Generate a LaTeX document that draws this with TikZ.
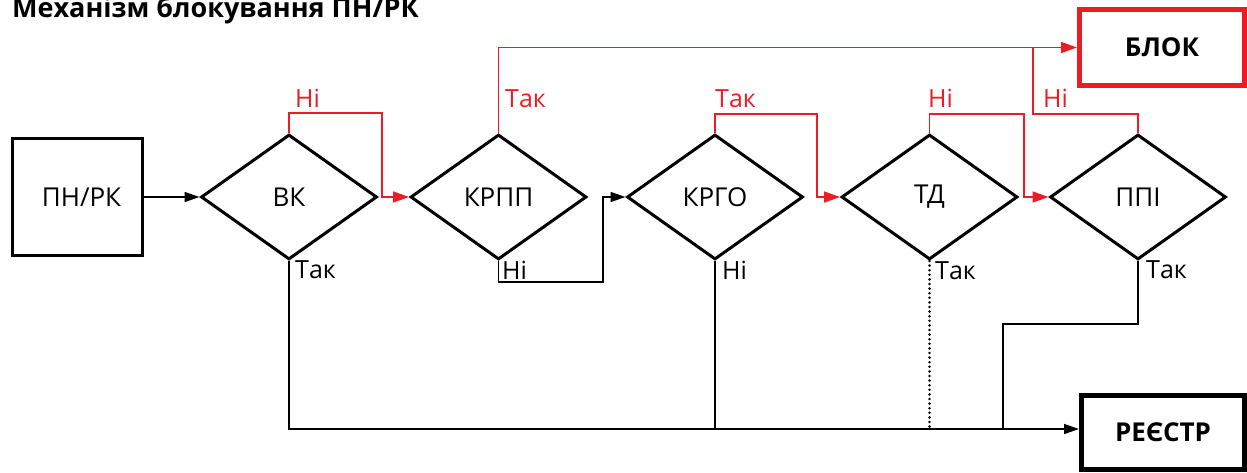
\documentclass[tikz,border=0pt]{standalone}
\usepackage{fontspec}
\setmainfont{Open Sans}
\usetikzlibrary{shapes.geometric,arrows.meta}
\definecolor{bred}{RGB}{237,28,36}
\begin{document}
\begin{tikzpicture}[x=1pt,y=-1pt,
  dia/.style={diamond,draw,line width=3pt,minimum width=176pt,minimum height=125pt,inner sep=0pt,font=\fontsize{26}{30}\selectfont},
  sbox/.style={rectangle,draw,line width=3pt,minimum width=130pt,minimum height=117pt,inner sep=0pt,font=\fontsize{26}{30}\selectfont},
  bigbox/.style={rectangle,draw,line width=5pt,inner sep=0pt,font=\bfseries\fontsize{26}{30}\selectfont},
  conn/.style={line width=1.5pt},
  rconn/.style={conn,draw=bred},
  tipb/.style={-{Triangle[length=15pt,width=10pt]}},
  tipr/.style={-{Triangle[length=16pt,width=11pt]}},
  lbl/.style={anchor=base west,inner sep=0pt,font=\fontsize{25}{30}\selectfont},
  rlbl/.style={lbl,text=bred}]
\useasboundingbox (0,0) rectangle (1247,472);
% title
\node[anchor=base west,inner sep=0pt,font=\bfseries\fontsize{27}{32}\selectfont] (title) at (12,17) {Механізм блокування ПН/РК};
% nodes
\node[sbox] (pnrk) at (77.5,197) {\hspace*{8pt}ПН/РК};
\node[dia] (vk) at (289,197) {ВК};
\node[dia] (krpp) at (498.5,197) {КРПП};
\node[dia] (krgo) at (715,197) {КРГО};
\node[dia] (td) at (929.5,197) {ТД};
\node[dia] (ppi) at (1138,197) {ППІ};
\node[bigbox,draw=bred,minimum width=165pt,minimum height=76pt] (blok) at (1162,47.5) {БЛОК};
\node[bigbox,minimum width=163pt,minimum height=74pt] (reestr) at (1163,432.5) {РЕЄСТР};
\coordinate (busL) at (289,429);
\coordinate (ppiB) at (1003,324);
\coordinate (ppiT) at (1033,114);
% black connectors
\draw[conn,tipb] (pnrk.east) -- (vk.west);
\draw[conn,tipb] (krpp.south) |- (603,282) -- (603,197) -- (krgo.west);
\draw[conn,tipb] (vk.south) -- (busL) -- (reestr.west |- busL);
\draw[conn] (krgo.south) -- (krgo.south |- busL);
\draw[line width=2.8pt,line cap=round,dash pattern=on 0pt off 4.6pt] (td.south) -- (td.south |- busL);
\draw[conn] (ppi.south) |- (ppiB) -- (ppiB |- busL);
% red connectors
\draw[rconn,tipr] (vk.north) |- (382,113) -- (382,197) -- (krpp.west);
\draw[rconn,tipr] (krpp.north) |- (blok.west);
\draw[rconn,tipr] (krgo.north) |- (817,114) -- (817,197) -- (td.west);
\draw[rconn,tipr] (td.north) |- (1024,114) -- (1024,197) -- (ppi.west);
\draw[rconn] (ppi.north) |- (ppiT) -- (ppiT |- blok.west);
% labels
\node[rlbl] (l1) at (295,107) {Ні};
\node[rlbl] (l2) at (505,107) {Так};
\node[rlbl] (l3) at (715,107) {Так};
\node[rlbl] (l4) at (928,107) {Ні};
\node[rlbl] (l5) at (1043,107) {Ні};
\node[lbl] (b1) at (295,278) {Так};
\node[lbl] (b2) at (502,279) {Ні};
\node[lbl] (b3) at (722,279) {Ні};
\node[lbl] (b4) at (935,279) {Так};
\node[lbl] (b5) at (1146,278) {Так};
\end{tikzpicture}
\end{document}
